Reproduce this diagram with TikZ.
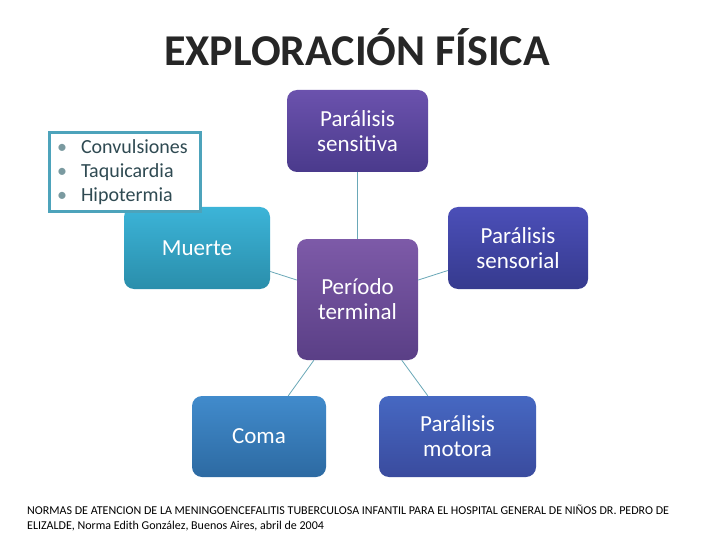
\documentclass[tikz,border=0pt]{standalone}
\usepackage{fontspec}
\setmainfont{Carlito}
\usetikzlibrary{shadings}
\definecolor{linec}{HTML}{6AA8B8}
\definecolor{bulbox}{HTML}{4DA3BB}
\definecolor{bultext}{HTML}{2F4A52}
\definecolor{bulgray}{HTML}{7A9AA0}
\definecolor{titlec}{HTML}{262626}
\definecolor{sensT}{HTML}{6B52AD}\definecolor{sensB}{HTML}{4A3A8C}
\definecolor{muerT}{HTML}{3CB4D8}\definecolor{muerB}{HTML}{2A8EAB}
\definecolor{termT}{HTML}{7D5AA8}\definecolor{termB}{HTML}{5A3F86}
\definecolor{sorT}{HTML}{4B4FB8}\definecolor{sorB}{HTML}{363A8E}
\definecolor{comaT}{HTML}{418BCC}\definecolor{comaB}{HTML}{2D6AA2}
\definecolor{motT}{HTML}{4668C2}\definecolor{motB}{HTML}{3A4B9E}
\tikzset{
  box/.style={rectangle, rounded corners=10pt, inner sep=0pt, text=white, align=center,
    font=\fontsize{23}{25}\selectfont},
  conn/.style={draw=linec, line width=0.8pt},
}
\begin{document}
\begin{tikzpicture}[x=1pt,y=-1pt]
\useasboundingbox (0,0) rectangle (720,540);
\fill[white] (0,0) rectangle (720,540);
% title
\node[font=\bfseries\fontsize{44}{48}\selectfont, inner sep=0pt, text=titlec] (title) at (357,47)
  {EXPLORACIÓN FÍSICA};
% boxes
\node[box, minimum width=141pt, minimum height=82pt, top color=sensT, bottom color=sensB] (sensitiva) at (357.5,131) {Parálisis\\sensitiva};
\node[box, minimum width=146pt, minimum height=82pt, top color=muerT, bottom color=muerB] (muerte) at (197,248) {Muerte};
\node[box, minimum width=121pt, minimum height=121pt, top color=termT, bottom color=termB] (terminal) at (357.5,299.5) {Período\\terminal};
\node[box, minimum width=140pt, minimum height=82pt, top color=sorT, bottom color=sorB] (sensorial) at (518,248) {Parálisis\\sensorial};
\node[box, minimum width=134pt, minimum height=81pt, top color=comaT, bottom color=comaB] (coma) at (259,436.5) {Coma};
\node[box, minimum width=157pt, minimum height=81pt, top color=motT, bottom color=motB] (motora) at (457.5,436.5) {Parálisis\\motora};
% connectors
\draw[conn] (sensitiva) -- (terminal);
\draw[conn] (muerte) -- (terminal);
\draw[conn] (sensorial) -- (terminal);
\draw[conn] (coma) -- (terminal);
\draw[conn] (motora) -- (terminal);
% bullet box
\node[draw=bulbox, line width=3pt, fill=white, minimum width=151pt, minimum height=79pt,
  text width=135pt, inner xsep=8pt, inner ysep=0pt, align=left, text=bultext,
  font=\fontsize{20}{24}\selectfont] (bullets) at (124.5,172.5)
  {\makebox[24pt][l]{\textcolor{bulgray}{•}}Convulsiones\\
   \makebox[24pt][l]{\textcolor{bulgray}{•}}Taquicardia\\
   \makebox[24pt][l]{\textcolor{bulgray}{•}}Hipotermia};
% footer
\node[anchor=north west, align=left, inner sep=0pt, font=\fontsize{12}{15}\selectfont] (footer) at (27,505)
  {NORMAS DE ATENCION DE LA MENINGOENCEFALITIS TUBERCULOSA INFANTIL PARA EL HOSPITAL GENERAL DE NIÑOS DR. PEDRO DE\\
   ELIZALDE, Norma Edith González, Buenos Aires, abril de 2004};
\end{tikzpicture}
\end{document}
